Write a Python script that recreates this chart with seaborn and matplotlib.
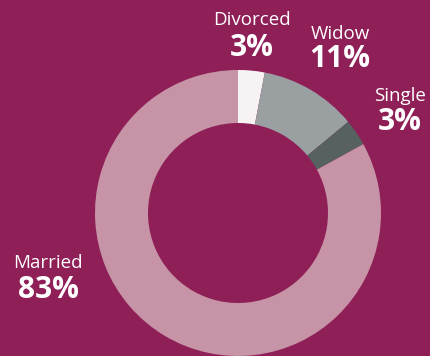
import matplotlib
matplotlib.use("Agg")
import matplotlib.pyplot as plt
import seaborn as sns

# Marital status shares (percent)
categories = ["Divorced", "Widow", "Single", "Married"]
shares = [3, 11, 3, 83]
slice_colors = ["#F7F3F5", "#9AA0A2", "#566160", "#C793A6"]

BG = "#8E1F57"

sns.set_theme(style="white")
plt.rcParams["font.family"] = ["Open Sans", "DejaVu Sans"]

W, H = 431, 356
fig = plt.figure(figsize=(W / 100, H / 100), dpi=100, facecolor=BG)
ax = fig.add_axes([0, 0, 1, 1])
ax.set_facecolor(BG)

# Donut: clockwise from 12 o'clock (y axis inverted, so counterclock=True
# renders clockwise on screen)
cx, cy, r_out, r_in = 238, 213, 143, 90
ax.pie(shares, colors=slice_colors, startangle=-90, counterclock=True,
       center=(cx, cy), radius=r_out, frame=True,
       wedgeprops=dict(width=r_out - r_in, linewidth=0))
ax.set_xlim(0, W)
ax.set_ylim(H, 0)
ax.set_aspect("equal")
ax.set_axis_off()

# Label placement (name, then percentage beneath)
label_pos = {
    "Divorced": (252, 20, 48),
    "Widow": (340, 34, 59),
    "Single": (400, 96, 122),
    "Married": (48, 263, 290),
}
for name, val in zip(categories, shares):
    x, y_name, y_val = label_pos[name]
    ax.text(x, y_name, name, color="white", fontsize=13.5,
            ha="center", va="center")
    ax.text(x, y_val, f"{val}%", color="white", fontsize=21.5,
            fontweight="bold", ha="center", va="center")

fig.savefig("out.png", dpi=100, facecolor=BG)
